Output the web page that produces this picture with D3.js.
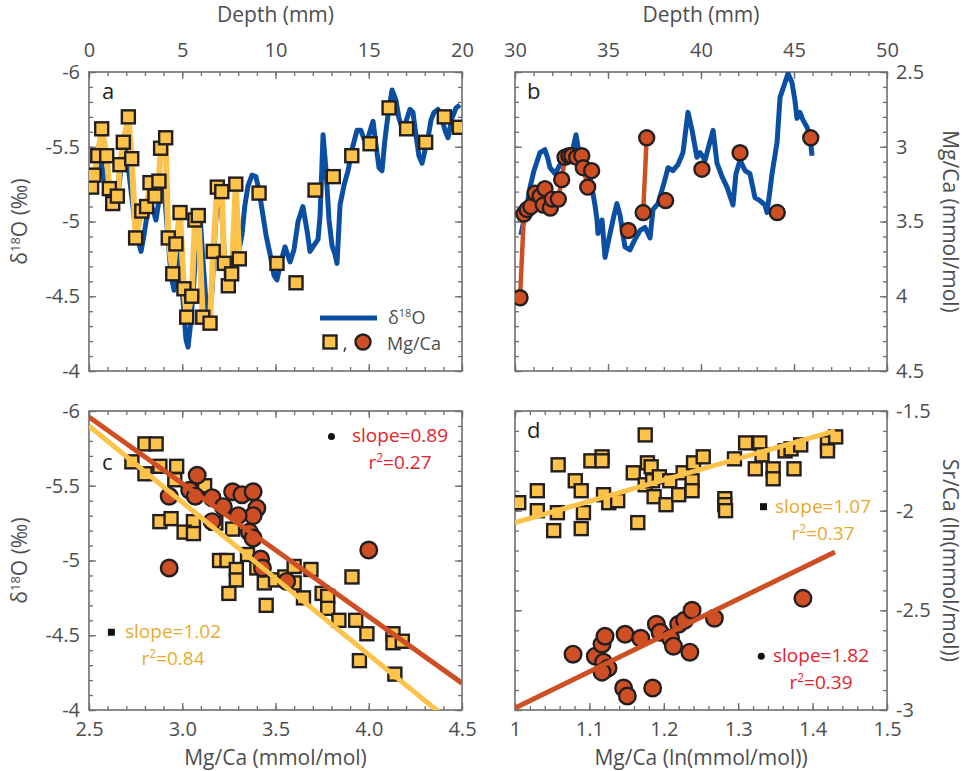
<!DOCTYPE html>
<html>
<head>
<meta charset="utf-8">
<script src="https://cdn.jsdelivr.net/npm/d3@7"></script>
<style>
  body { margin: 0; background: #fff; }
  svg text { font-family: "Open Sans", sans-serif; }
</style>
</head>
<body>
<div id="chart"></div>
<script>
// ---------- data ----------
// panel a: d18O record (blue) vs depth
const depthA = [0.00,0.16,0.32,0.48,0.64,0.80,0.97,1.13,1.29,1.45,1.61,1.77,1.93,2.09,2.25,2.41,2.57,2.79,2.95,3.11,3.27,3.43,3.59,3.75,3.91,4.08,4.24,4.40,4.56,4.72,4.88,5.04,5.20,5.31,5.47,5.63,5.79,5.95,6.11,6.27,6.43,6.60,6.76,6.92,7.08,7.24,7.40,7.56,7.72,7.88,8.04,8.20,8.36,8.53,8.74,8.95,9.11,9.28,9.49,9.71,9.92,10.08,10.29,10.51,10.78,10.99,11.21,11.47,11.69,11.85,12.06,12.28,12.39,12.55,12.71,12.87,13.03,13.19,13.30,13.46,13.67,13.89,14.10,14.37,14.58,14.75,14.96,15.23,15.39,15.55,15.71,15.87,16.03,16.25,16.46,16.62,16.78,17.00,17.21,17.37,17.53,17.69,17.86,18.02,18.18,18.34,18.50,18.71,18.87,19.09,19.25,19.46,19.68,19.89];
const d18oA = [-5.26,-5.29,-5.21,-5.31,-5.41,-5.29,-5.18,-5.14,-5.11,-5.16,-5.24,-5.41,-5.51,-5.38,-5.21,-5.04,-4.91,-4.80,-4.91,-5.04,-5.11,-5.08,-5.01,-5.14,-5.24,-5.14,-4.88,-4.64,-4.54,-4.68,-4.81,-4.47,-4.21,-4.16,-4.34,-4.61,-4.94,-5.04,-4.74,-4.47,-4.37,-4.54,-4.94,-5.21,-5.14,-4.81,-4.58,-4.61,-4.74,-4.88,-4.81,-4.91,-5.11,-5.24,-5.31,-5.30,-5.21,-5.08,-4.91,-4.78,-4.64,-4.61,-4.73,-4.83,-4.73,-4.81,-5.00,-5.10,-4.94,-4.80,-4.84,-4.88,-5.04,-5.58,-5.34,-5.01,-4.84,-4.78,-4.72,-5.11,-5.24,-5.34,-5.48,-5.61,-5.61,-5.55,-5.56,-5.67,-5.51,-5.36,-5.34,-5.55,-5.71,-5.88,-5.81,-5.69,-5.63,-5.67,-5.75,-5.73,-5.58,-5.44,-5.39,-5.48,-5.56,-5.68,-5.73,-5.75,-5.71,-5.61,-5.56,-5.69,-5.76,-5.78];
// panel a: Mg/Ca (squares) vs depth
const mgDepthA = [0.14,0.27,0.47,0.68,0.95,1.09,1.27,1.52,1.66,1.84,2.11,2.29,2.50,2.83,3.09,3.27,3.54,3.75,3.84,4.11,4.25,4.49,4.66,4.88,5.09,5.24,5.51,5.68,5.86,6.10,6.49,6.66,6.88,7.12,7.25,7.47,7.65,7.87,8.06,9.12,10.08,11.10,12.12,13.10,14.09,15.07,16.09,17.03,18.05,19.05,19.86];
const mgA = [3.27,3.19,3.06,2.88,3.06,3.28,3.38,3.33,3.12,2.97,2.80,3.08,3.61,3.43,3.40,3.24,3.33,3.23,3.01,2.94,3.61,3.85,3.65,3.44,3.95,4.14,4.00,3.49,3.46,4.14,4.18,3.70,3.27,3.30,3.78,3.93,3.85,3.25,3.75,3.31,3.78,3.91,3.29,3.20,3.06,2.98,2.74,2.88,2.97,2.80,2.87];
const mgLineEndA = 8.1; // yellow connecting line only over the dense part

// panel b: d18O record vs depth
const depthB = [30.32,30.48,30.65,30.81,31.02,31.18,31.34,31.61,31.77,31.88,32.15,32.42,32.63,32.90,33.12,33.28,33.44,33.71,33.92,34.03,34.19,34.30,34.41,34.46,34.68,34.84,35.11,35.32,35.48,35.65,35.91,36.18,36.45,36.72,36.99,37.26,37.42,37.69,37.90,38.06,38.23,38.49,38.76,39.03,39.30,39.52,39.78,39.95,40.22,40.43,40.65,40.86,41.13,41.40,41.72,41.88,42.10,42.37,42.63,42.90,43.17,43.44,43.55,43.71,43.82,44.09,44.25,44.52,44.68,44.89,45.05,45.16,45.32,45.48,45.70,45.86,45.97];
const d18oB = [-4.91,-5.01,-5.11,-5.23,-5.34,-5.40,-5.46,-5.48,-5.42,-5.36,-5.32,-5.38,-5.46,-5.46,-5.49,-5.58,-5.46,-5.41,-5.34,-5.30,-5.19,-5.11,-5.01,-4.92,-5.01,-4.76,-4.92,-5.04,-5.12,-5.04,-4.83,-4.81,-4.88,-4.94,-4.96,-4.89,-5.08,-5.12,-5.21,-5.28,-5.36,-5.34,-5.38,-5.46,-5.73,-5.61,-5.43,-5.46,-5.41,-5.51,-5.61,-5.39,-5.30,-5.23,-5.11,-5.32,-5.41,-5.34,-5.32,-5.16,-5.14,-5.11,-5.06,-5.21,-5.32,-5.53,-5.83,-5.93,-5.99,-5.93,-5.81,-5.69,-5.73,-5.68,-5.63,-5.57,-5.44];
// panel b: Mg/Ca (circles) vs depth; segment ids for the connecting line (0 = unconnected)
const mgDepthB = [30.27,30.48,30.65,30.85,31.08,31.35,31.52,31.61,31.90,32.00,32.33,32.51,32.69,32.90,33.05,33.32,33.59,33.67,33.91,34.12,36.09,36.89,37.08,38.10,40.05,42.10,44.10,45.90];
const mgB = [4.01,3.45,3.42,3.40,3.31,3.33,3.39,3.28,3.41,3.35,3.35,3.22,3.07,3.06,3.06,3.07,3.06,3.14,3.27,3.16,3.56,3.44,2.94,3.36,3.15,3.04,3.44,2.94];
const mgSegB = [1,1,1,1,1,1,1,1,1,1,1,1,1,1,1,1,1,1,1,1,0,2,2,0,0,0,0,0];

// panel c: d18O vs Mg/Ca
const mgSqC = [2.73,2.80,2.86,2.80,2.88,2.97,2.96,3.12,2.88,2.94,3.06,3.01,3.06,3.18,3.27,3.20,3.24,3.35,3.29,3.29,3.25,3.40,3.44,3.50,3.45,3.55,3.60,3.60,3.65,3.69,3.75,3.78,3.78,3.84,3.91,3.93,3.99,3.95,4.13,4.13,4.18,4.14];
const d18oSqC = [-5.66,-5.78,-5.78,-5.58,-5.63,-5.63,-5.54,-5.50,-5.26,-5.28,-5.26,-5.19,-5.18,-5.25,-5.21,-5.00,-5.00,-5.04,-4.94,-4.87,-4.78,-4.95,-4.85,-4.87,-4.70,-4.89,-4.96,-4.85,-4.75,-4.94,-4.78,-4.76,-4.68,-4.60,-4.89,-4.60,-4.51,-4.33,-4.51,-4.45,-4.46,-4.24];
const mgCiC = [3.08,2.93,3.04,3.07,3.16,3.22,3.27,3.32,3.38,3.40,3.38,3.30,3.16,3.36,3.38,3.42,3.43,2.93,4.00,3.56];
const d18oCiC = [-5.57,-5.43,-5.47,-5.43,-5.42,-5.36,-5.46,-5.44,-5.46,-5.35,-5.30,-5.30,-5.26,-5.19,-5.15,-5.01,-4.95,-4.95,-5.07,-4.86];
// regressions in c
const fitSqC = { x0: 2.5, y0: -5.90, slope: 1.02, r2: 0.84 };
const fitCiC = { x0: 2.5, y0: -5.96, slope: 0.89, r2: 0.27 };

// panel d: Sr/Ca vs Mg/Ca (ln)
const mgSqD = [1.005,1.030,1.030,1.052,1.057,1.058,1.081,1.089,1.092,1.089,1.102,1.117,1.117,1.119,1.126,1.138,1.159,1.165,1.175,1.178,1.183,1.175,1.187,1.185,1.194,1.203,1.208,1.220,1.226,1.238,1.238,1.240,1.253,1.282,1.282,1.283,1.295,1.310,1.323,1.329,1.332,1.347,1.347,1.363,1.371,1.375,1.384,1.420,1.420,1.431];
const srSqD = [-1.96,-1.90,-2.00,-2.10,-2.01,-1.77,-1.85,-1.90,-2.01,-2.09,-1.75,-1.73,-1.75,-1.92,-1.96,-1.95,-1.81,-2.06,-1.62,-1.76,-1.78,-1.87,-1.93,-1.85,-1.83,-1.97,-1.85,-1.92,-1.81,-1.85,-1.90,-1.76,-1.73,-1.94,-1.97,-2.00,-1.74,-1.66,-1.79,-1.66,-1.72,-1.79,-1.84,-1.70,-1.69,-1.79,-1.67,-1.66,-1.70,-1.63];
const mgCiD = [1.078,1.108,1.117,1.121,1.119,1.125,1.117,1.146,1.151,1.148,1.169,1.185,1.190,1.195,1.209,1.213,1.220,1.228,1.238,1.235,1.268,1.387];
const srCiD = [-2.72,-2.73,-2.67,-2.63,-2.76,-2.79,-2.81,-2.89,-2.93,-2.62,-2.64,-2.89,-2.57,-2.61,-2.64,-2.68,-2.57,-2.55,-2.50,-2.71,-2.54,-2.44];
const fitSqD = { x0: 1.0, x1: 1.43, y0: -2.06, slope: 1.07, r2: 0.37 };
const fitCiD = { x0: 1.0, x1: 1.43, y0: -2.99, slope: 1.82, r2: 0.39 };

// ---------- styling ----------
const BLUE = "#0b4fa3", YEL = "#fcc24a", ORG = "#cf4f25", EDGE = "#231f20";
const AX = "#6d6e71", TXT = "#4d4d4f";
const RED_T = "#e5222c", GOLD_T = "#e9aa2c";
const TICK_FS = 20, TITLE_FS = 21;

const svg = d3.select("#chart").append("svg")
    .attr("width", 966).attr("height", 771)
    .style("background", "#fff");

// panel frames
const L = { x0: 89, x1: 462 }, R = { x0: 515, x1: 887 };
const T = { y0: 72, y1: 371 }, B = { y0: 411, y1: 710 };

const xA = d3.scaleLinear().domain([0, 20]).range([L.x0, L.x1]);
const yA = d3.scaleLinear().domain([-6, -4]).range([T.y0, T.y1]);
const mA = d3.scaleLinear().domain([2.5, 4.5]).range([T.y0, T.y1]);
const xB = d3.scaleLinear().domain([30, 50]).range([R.x0, R.x1]);
const yB = d3.scaleLinear().domain([-6, -4]).range([T.y0, T.y1]);
const mB = d3.scaleLinear().domain([2.5, 4.5]).range([T.y0, T.y1]);
const xC = d3.scaleLinear().domain([2.5, 4.5]).range([L.x0, L.x1]);
const yC = d3.scaleLinear().domain([-6, -4]).range([B.y0, B.y1]);
const xD = d3.scaleLinear().domain([1, 1.5]).range([R.x0, R.x1]);
const yD = d3.scaleLinear().domain([-1.5, -3]).range([B.y0, B.y1]);

const steps = (lo, hi, st) => d3.range(Math.round((hi - lo) / st) + 1).map(i => +(lo + i * st).toFixed(4));
const plain = d => String(d);

function axisSet(g, scale, orient, at, majors, minors, fmt) {
  const mk = d3[orient];
  const tr = (orient === "axisTop" || orient === "axisBottom") ? `translate(0,${at})` : `translate(${at},0)`;
  const pad = orient === "axisTop" ? 15 : (orient === "axisBottom" ? 12 : 9);
  g.append("g").attr("transform", tr)
    .call(mk(scale).tickValues(minors).tickSize(-4).tickFormat(""))
    .call(s => s.select(".domain").remove());
  const gm = g.append("g").attr("transform", tr)
    .call(mk(scale).tickValues(majors).tickSize(-7).tickPadding(fmt ? pad : 0).tickFormat(fmt || ""))
    .call(s => s.select(".domain").remove());
  gm.selectAll("text").attr("fill", TXT).style("font-size", TICK_FS + "px");
}

function frame(x, y, xMaj, xMin, yMaj, yMin, lab) {
  const g = svg.append("g");
  const [x0, x1] = x.range(), [y0, y1] = y.range();
  axisSet(g, x, "axisTop", y0, xMaj, xMin, lab.top);
  axisSet(g, x, "axisBottom", y1, xMaj, xMin, lab.bottom);
  axisSet(g, y, "axisLeft", x0, yMaj, yMin, lab.left);
  axisSet(g, y, "axisRight", x1, yMaj, yMin, lab.right);
  g.selectAll(".tick line").attr("stroke", AX).attr("stroke-width", 1.3);
  g.append("rect").attr("x", x0).attr("y", y0).attr("width", x1 - x0).attr("height", y1 - y0)
    .attr("fill", "none").attr("stroke", AX).attr("stroke-width", 1.6);
  return g;
}

const fmt1 = d3.format(".1f");
frame(xA, yA, steps(0, 20, 5), steps(0, 20, 1), steps(-6, -4, 0.5), steps(-6, -4, 0.1), { top: plain, left: plain });
frame(xB, mB, steps(30, 50, 5), steps(30, 50, 1), steps(2.5, 4.5, 0.5), steps(2.5, 4.5, 0.1), { top: plain, right: plain });
frame(xC, yC, steps(2.5, 4.5, 0.5), steps(2.5, 4.5, 0.1), steps(-6, -4, 0.5), steps(-6, -4, 0.1), { bottom: fmt1, left: plain });
frame(xD, yD, steps(1, 1.5, 0.1), steps(1, 1.5, 0.02), [-1.5, -2, -2.5, -3], steps(-3, -1.5, 0.1), { bottom: plain, right: plain });

// clip paths
const defs = svg.append("defs");
[["clipL", L, B], ["clipR", R, B], ["clipLT", L, T], ["clipRT", R, T]].forEach(([id, h, v]) => {
  defs.append("clipPath").attr("id", id).append("rect")
    .attr("x", h.x0).attr("y", v.y0).attr("width", h.x1 - h.x0).attr("height", v.y1 - v.y0);
});

const SQ = 13;
function squares(g, xs, ys, xs_, ys_) {
  g.selectAll(null).data(xs).enter().append("rect")
    .attr("x", d => xs_(d) - SQ / 2).attr("y", (d, i) => ys_(ys[i]) - SQ / 2)
    .attr("width", SQ).attr("height", SQ)
    .attr("fill", YEL).attr("stroke", EDGE).attr("stroke-width", 2.4);
}
function circles(g, xs, ys, xs_, ys_, r) {
  g.selectAll(null).data(xs).enter().append("circle")
    .attr("cx", d => xs_(d)).attr("cy", (d, i) => ys_(ys[i])).attr("r", r)
    .attr("fill", ORG).attr("stroke", EDGE).attr("stroke-width", 2.4);
}

// ---------- panel a ----------
const ga = svg.append("g").attr("clip-path", "url(#clipLT)");
const lineA = d3.line().x(d => xA(d[0])).y(d => d[1]);
ga.append("path")
  .datum(depthA.map((d, i) => [d, yA(d18oA[i])]))
  .attr("d", lineA).attr("fill", "none").attr("stroke", BLUE).attr("stroke-width", 5)
  .attr("stroke-linejoin", "round");
ga.append("path")
  .datum(mgDepthA.map((d, i) => [d, mA(mgA[i])]).filter(p => p[0] <= mgLineEndA))
  .attr("d", lineA).attr("fill", "none").attr("stroke", YEL).attr("stroke-width", 6)
  .attr("stroke-linejoin", "round");
squares(ga, mgDepthA, mgA, xA, mA);

// ---------- panel b ----------
const gb = svg.append("g").attr("clip-path", "url(#clipRT)");
gb.append("path")
  .datum(depthB.map((d, i) => [xB(d), yB(d18oB[i])]))
  .attr("d", d3.line()).attr("fill", "none").attr("stroke", BLUE).attr("stroke-width", 5)
  .attr("stroke-linejoin", "round");
[1, 2].forEach(s => {
  gb.append("path")
    .datum(mgDepthB.map((d, i) => [xB(d), mB(mgB[i]), mgSegB[i]]).filter(p => p[2] === s))
    .attr("d", d3.line()).attr("fill", "none").attr("stroke", ORG).attr("stroke-width", 4.5);
});
circles(gb, mgDepthB, mgB, xB, mB, 7.5);

// ---------- panel c ----------
const gc = svg.append("g").attr("clip-path", "url(#clipL)");
squares(gc, mgSqC, d18oSqC, xC, yC);
circles(gc, mgCiC, d18oCiC, xC, yC, 8.3);
[[fitCiC, ORG], [fitSqC, YEL]].forEach(([f, c]) => {
  gc.append("path")
    .datum([2.5, 4.5].map(x => [xC(x), yC(f.y0 + f.slope * (x - f.x0))]))
    .attr("d", d3.line()).attr("stroke", c).attr("stroke-width", 5).attr("fill", "none");
});

// ---------- panel d ----------
const gd = svg.append("g").attr("clip-path", "url(#clipR)");
squares(gd, mgSqD, srSqD, xD, yD);
circles(gd, mgCiD, srCiD, xD, yD, 8.3);
[[fitSqD, YEL], [fitCiD, ORG]].forEach(([f, c]) => {
  gd.append("path")
    .datum([f.x0, f.x1].map(x => [xD(x), yD(f.y0 + f.slope * (x - f.x0))]))
    .attr("d", d3.line()).attr("stroke", c).attr("stroke-width", 5).attr("fill", "none");
});

// ---------- text ----------
function label(x, y, opt = {}) {
  const t = svg.append("text").attr("x", x).attr("y", y)
    .attr("fill", opt.fill || TXT).style("font-size", (opt.size || TITLE_FS) + "px")
    .attr("text-anchor", opt.anchor || "middle");
  if (opt.rot) t.attr("transform", `rotate(${opt.rot},${x},${y})`);
  return t;
}
function d18Label(t, suffix, sup) {
  t.append("tspan").text("δ");
  t.append("tspan").text("18").attr("dy", -7).style("font-size", sup + "px");
  t.append("tspan").text("O" + suffix).attr("dy", 7);
}

label(xA(10), 22).text("Depth (mm)");
label(xB(40), 22).text("Depth (mm)");
d18Label(label(27, yA(-5), { rot: -90 }), " (‰)", 13);
d18Label(label(27, yC(-5), { rot: -90 }), " (‰)", 13);
label(943, mB(3.5), { rot: 90 }).text("Mg/Ca (mmol/mol)");
label(943, yD(-2.25), { rot: 90 }).text("Sr/Ca (ln(mmol/mol))");
label(xC(3.5), 765).text("Mg/Ca (mmol/mol)");
label(xD(1.25), 765).text("Mg/Ca (ln(mmol/mol))");

// panel letters
label(102, 99, { anchor: "start", fill: "#231f20", size: 22 }).text("a");
label(527, 99, { anchor: "start", fill: "#231f20", size: 22 }).text("b");
label(102, 470, { anchor: "start", fill: "#231f20", size: 22 }).text("c");
label(527, 438, { anchor: "start", fill: "#231f20", size: 22 }).text("d");

// legend in a
svg.append("line").attr("x1", 320).attr("x2", 377).attr("y1", 318).attr("y2", 318)
  .attr("stroke", BLUE).attr("stroke-width", 5);
d18Label(label(388, 324, { anchor: "start", size: 18 }), "", 11);
svg.append("rect").attr("x", 330 - SQ / 2).attr("y", 342 - SQ / 2).attr("width", SQ).attr("height", SQ)
  .attr("fill", YEL).attr("stroke", EDGE).attr("stroke-width", 2.4);
label(345, 350, { size: 18, fill: EDGE }).text(",");
svg.append("circle").attr("cx", 363).attr("cy", 342).attr("r", 7.5)
  .attr("fill", ORG).attr("stroke", EDGE).attr("stroke-width", 2.4);
label(387, 350, { anchor: "start", size: 18 }).text("Mg/Ca");

// regression annotations
function annot(cx, cy, mark, fit, color, tx) {
  if (mark === "dot") svg.append("circle").attr("cx", cx).attr("cy", cy).attr("r", 3.5).attr("fill", "#111");
  else svg.append("rect").attr("x", cx - 3.5).attr("y", cy - 3.5).attr("width", 7).attr("height", 7).attr("fill", "#111");
  label(tx, cy + 6, { fill: color, size: 19 }).text("slope=" + fit.slope.toFixed(2));
  const t = label(tx, cy + 33, { fill: color, size: 19 });
  t.append("tspan").text("r");
  t.append("tspan").text("2").attr("dy", -7).style("font-size", "12px");
  t.append("tspan").text("=" + fit.r2.toFixed(2)).attr("dy", 7);
}
annot(xC(3.8), yC(-5.83), "dot", fitCiC, RED_T, 400);
annot(xC(2.62), yC(-4.52), "sq", fitSqC, GOLD_T, 173);
annot(xD(1.334), yD(-1.98), "sq", fitSqD, GOLD_T, 823);
annot(xD(1.331), yD(-2.73), "dot", fitCiD, RED_T, 821);
</script>
</body>
</html>
